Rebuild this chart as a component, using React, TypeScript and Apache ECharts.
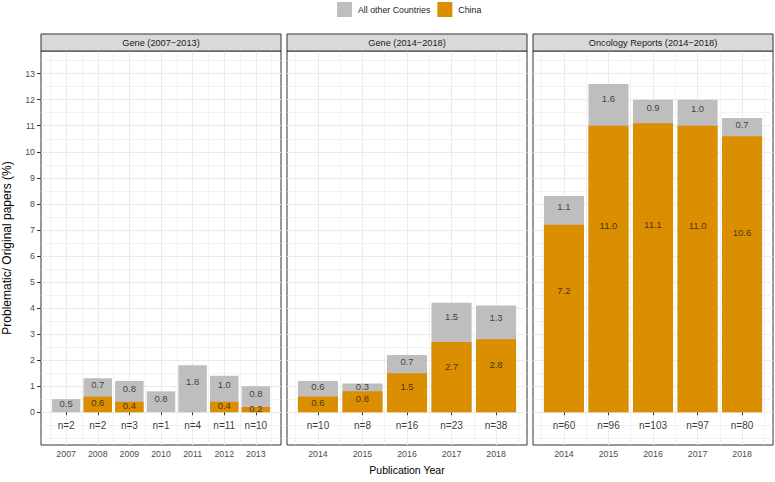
import React, { useEffect, useRef } from "react";
import * as echarts from "echarts";

// ---------- data ----------
const panelTitles = ["Gene (2007−2013)", "Gene (2014−2018)", "Oncology Reports (2014−2018)"];

const geneEarlyYears = [2007, 2008, 2009, 2010, 2011, 2012, 2013];
const geneEarlyChina = [0, 0.6, 0.4, 0, 0, 0.4, 0.2];
const geneEarlyOther = [0.5, 0.7, 0.8, 0.8, 1.8, 1.0, 0.8];
const geneEarlyN = [2, 2, 3, 1, 4, 11, 10];

const geneLateYears = [2014, 2015, 2016, 2017, 2018];
const geneLateChina = [0.6, 0.8, 1.5, 2.7, 2.8];
const geneLateOther = [0.6, 0.3, 0.7, 1.5, 1.3];
const geneLateN = [10, 8, 16, 23, 38];

const oncoYears = [2014, 2015, 2016, 2017, 2018];
const oncoChina = [7.2, 11.0, 11.1, 11.0, 10.6];
const oncoOther = [1.1, 1.6, 0.9, 1.0, 0.7];
const oncoN = [60, 96, 103, 97, 80];

const yTicks = [0, 1, 2, 3, 4, 5, 6, 7, 8, 9, 10, 11, 12, 13];
const yMinorTicks = [-1, -0.5, 0, 0.5, 1, 1.5, 2, 2.5, 3, 3.5, 4, 4.5, 5, 5.5, 6, 6.5, 7, 7.5, 8, 8.5, 9, 9.5, 10, 10.5, 11, 11.5, 12, 12.5, 13, 13.5];

const seriesNames = ["All other Countries", "China"];
const xTitle = "Publication Year";
const yTitle = "Problematic/ Original papers (%)";

// ---------- style / layout ----------
const FONT = "'Liberation Sans', Arial, Helvetica, sans-serif";
const COL_CHINA = "#DB8E00";
const COL_OTHER = "#BEBEBE";
const GRID_COL = "#EBEBEB";
const panelLefts = [41, 287, 533];
const PANEL_W = 240;
const PLOT_TOP = 51;
const PLOT_H = 394;
const STRIP_TOP = 34;
const STRIP_H = 17;
const Y_MIN = -1.26;
const Y_MAX = 13.87;
const LABEL_FRAC = 0.65;
const N_LABEL_Y = -0.5;

const panels = [
  { years: geneEarlyYears, china: geneEarlyChina, other: geneEarlyOther, n: geneEarlyN },
  { years: geneLateYears, china: geneLateChina, other: geneLateOther, n: geneLateN },
  { years: oncoYears, china: oncoChina, other: oncoOther, n: oncoN },
];

function centered(text: string, size: number, fill: string) {
  return {
    text,
    fill,
    fontSize: size,
    fontFamily: FONT,
    textAlign: "center",
    textVerticalAlign: "middle",
    align: "center",
    verticalAlign: "middle",
  };
}

function buildOption() {
  const grid: any[] = [];
  const xAxis: any[] = [];
  const yAxis: any[] = [];
  const series: any[] = [];
  const graphic: any[] = [];

  panels.forEach((p, i) => {
    const nYears = p.years.length;
    const pad = 0.45 + 0.05 * (nYears - 1 + 0.9);
    const xMin = p.years[0] - pad;
    const xMax = p.years[nYears - 1] + pad;
    const unitPx = PANEL_W / (xMax - xMin);
    const halfSteps: number[] = [];
    for (let v = p.years[0] - 1; v <= p.years[nYears - 1] + 1; v += 0.5) halfSteps.push(v);

    grid.push({
      left: panelLefts[i],
      top: PLOT_TOP,
      width: PANEL_W,
      height: PLOT_H,
      show: true,
      borderColor: "#333333",
      borderWidth: 1,
      backgroundColor: "transparent",
    });

    // minor x axis (grid lines only)
    xAxis.push({
      type: "value",
      gridIndex: i,
      position: "bottom",
      min: xMin,
      max: xMax,
      axisLine: { show: false },
      axisTick: { show: false, customValues: halfSteps },
      axisLabel: { show: false },
      splitLine: { show: true, lineStyle: { color: GRID_COL, width: 0.6 } },
    });
    // major x axis
    xAxis.push({
      type: "value",
      gridIndex: i,
      position: "bottom",
      offset: 0,
      min: xMin,
      max: xMax,
      axisLine: { show: false },
      axisTick: { show: true, length: 3, lineStyle: { color: "#333333", width: 1 }, customValues: p.years },
      axisLabel: {
        show: true,
        customValues: p.years,
        formatter: (v: number) => String(Math.round(v)),
        color: "#4D4D4D",
        fontSize: 8.8,
        fontFamily: FONT,
        margin: 4,
      },
      splitLine: { show: true, lineStyle: { color: GRID_COL, width: 1.1 } },
    });

    // minor y axis
    yAxis.push({
      type: "value",
      gridIndex: i,
      position: "left",
      min: Y_MIN,
      max: Y_MAX,
      axisLine: { show: false },
      axisTick: { show: false, customValues: yMinorTicks },
      axisLabel: { show: false },
      splitLine: { show: true, lineStyle: { color: GRID_COL, width: 0.6 } },
    });
    // major y axis
    yAxis.push({
      type: "value",
      gridIndex: i,
      position: "left",
      offset: 0,
      min: Y_MIN,
      max: Y_MAX,
      axisLine: { show: false },
      axisTick: { show: i === 0, length: 4, lineStyle: { color: "#333333", width: 1 }, customValues: yTicks },
      axisLabel: {
        show: i === 0,
        customValues: yTicks,
        formatter: (v: number) => String(Math.round(v)),
        color: "#4D4D4D",
        fontSize: 8.8,
        fontFamily: FONT,
        margin: 6,
      },
      splitLine: { show: true, lineStyle: { color: GRID_COL, width: 1.1 } },
    });

    const xi = 2 * i + 1;
    const yi = 2 * i + 1;
    const barW = 0.9 * unitPx;

    // grey bar = total (other stacked on top of China), orange drawn over its lower part
    series.push({
      name: seriesNames[0],
      type: "bar",
      xAxisIndex: xi,
      yAxisIndex: yi,
      barWidth: barW,
      barGap: "-100%",
      itemStyle: { color: COL_OTHER },
      data: p.years.map((y, k) => [y, +(p.china[k] + p.other[k]).toFixed(2)]),
      z: 3,
    });
    series.push({
      name: seriesNames[1],
      type: "bar",
      xAxisIndex: xi,
      yAxisIndex: yi,
      barWidth: barW,
      barGap: "-100%",
      itemStyle: { color: COL_CHINA },
      data: p.years.map((y, k) => [y, p.china[k]]),
      z: 4,
    });

    const segLabels: any[] = [];
    p.years.forEach((y, k) => {
      const c = p.china[k];
      const o = p.other[k];
      if (c > 0) segLabels.push([y, c * LABEL_FRAC, c.toFixed(1)]);
      if (o > 0) segLabels.push([y, c + o * LABEL_FRAC, o.toFixed(1)]);
    });
    series.push({
      name: "segLabels" + i,
      type: "scatter",
      xAxisIndex: xi,
      yAxisIndex: yi,
      symbolSize: 1,
      silent: true,
      itemStyle: { color: "rgba(0,0,0,0)" },
      label: {
        show: true,
        position: "inside",
        formatter: (prm: any) => prm.value[2],
        color: "#1A1A1A",
        textBorderWidth: 0,
        fontSize: 9.5,
        fontFamily: FONT,
      },
      data: segLabels,
      z: 6,
    });
    series.push({
      name: "nLabels" + i,
      type: "scatter",
      xAxisIndex: xi,
      yAxisIndex: yi,
      symbolSize: 1,
      silent: true,
      itemStyle: { color: "rgba(0,0,0,0)" },
      label: {
        show: true,
        position: "inside",
        formatter: (prm: any) => "n=" + prm.value[2],
        color: "#000000",
        textBorderWidth: 0,
        fontSize: 10,
        fontFamily: FONT,
      },
      data: p.years.map((y, k) => [y, N_LABEL_Y, p.n[k]]),
      z: 6,
    });

    // facet strip
    graphic.push({
      type: "rect",
      shape: { x: panelLefts[i], y: STRIP_TOP, width: PANEL_W, height: STRIP_H },
      style: { fill: "#D9D9D9", stroke: "#333333", lineWidth: 1 },
      z: 10,
    });
    graphic.push({
      type: "text",
      x: panelLefts[i] + PANEL_W / 2,
      y: STRIP_TOP + STRIP_H / 2 + 0.5,
      style: centered(panelTitles[i], 9.2, "#1A1A1A"),
      z: 11,
    });
  });

  graphic.push({
    type: "text",
    x: (panelLefts[0] + panelLefts[2] + PANEL_W) / 2,
    y: 470,
    style: centered(xTitle, 10.5, "#000000"),
  });
  graphic.push({
    type: "text",
    x: 7,
    y: 248,
    rotation: Math.PI / 2,
    style: centered(yTitle, 12, "#000000"),
  });

  return {
    animation: false,
    backgroundColor: "#FFFFFF",
    textStyle: { fontFamily: FONT },
    legend: {
      data: seriesNames,
      left: 337,
      top: 2,
      padding: 0,
      icon: "rect",
      itemWidth: 15,
      itemHeight: 15,
      itemGap: 7,
      selectedMode: false,
      textStyle: { fontSize: 8.8, color: "#1A1A1A", fontFamily: FONT, padding: [0, 0, 0, 1] },
    },
    grid,
    xAxis,
    yAxis,
    series,
    graphic,
  };
}

export default function App() {
  const ref = useRef<HTMLDivElement>(null);
  useEffect(() => {
    document.body.style.margin = "0";
    if (!ref.current) return;
    const chart = echarts.init(ref.current, undefined, { renderer: "svg" });
    chart.setOption(buildOption() as any);
    return () => chart.dispose();
  }, []);
  return <div ref={ref} style={{ width: 775, height: 482 }} />;
}
